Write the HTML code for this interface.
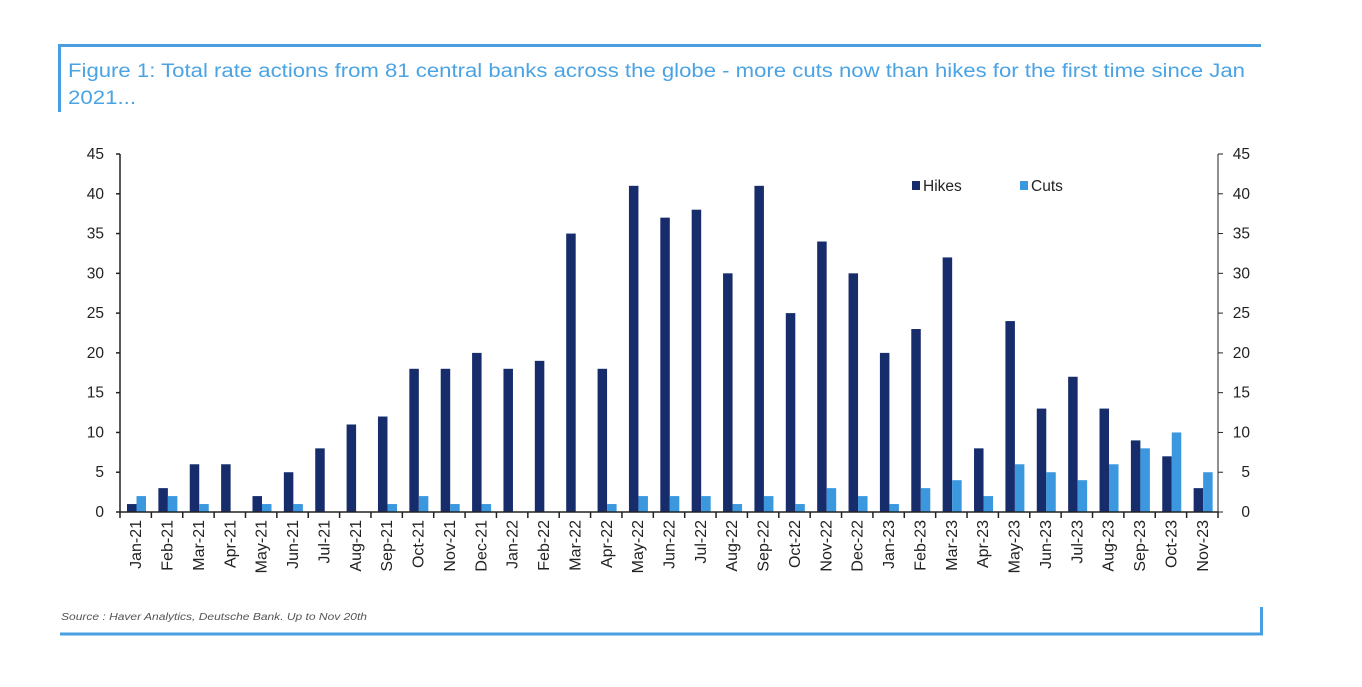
<!DOCTYPE html>
<html><head><meta charset="utf-8"><style>
body{margin:0;background:#fff;width:1362px;height:682px;overflow:hidden;font-family:"Liberation Sans",sans-serif}
</style></head><body>
<svg id="s" width="1362" height="682" xmlns="http://www.w3.org/2000/svg" font-family="Liberation Sans, sans-serif">
<line x1="58" y1="45.5" x2="1261" y2="45.5" stroke="#4a9fe0" stroke-width="3"/>
<line x1="59.5" y1="44" x2="59.5" y2="112" stroke="#4a9fe0" stroke-width="3"/>
<line x1="60" y1="634" x2="1263" y2="634" stroke="#4a9fe0" stroke-width="3"/>
<line x1="1261.5" y1="607" x2="1261.5" y2="635" stroke="#4a9fe0" stroke-width="3"/>
<text x="68" y="77" font-size="19" fill="#4ba3e3" textLength="1177" lengthAdjust="spacingAndGlyphs">Figure 1: Total rate actions from 81 central banks across the globe - more cuts now than hikes for the first time since Jan</text>
<text x="68" y="104" font-size="19" fill="#4ba3e3" textLength="68" lengthAdjust="spacingAndGlyphs">2021...</text>
<text x="61" y="620" font-size="10" font-style="italic" fill="#555" textLength="306" lengthAdjust="spacingAndGlyphs">Source : Haver Analytics, Deutsche Bank. Up to Nov 20th</text>
<rect x="912" y="181" width="8" height="9" fill="#172c6b"/>
<text x="923" y="191" font-size="15.5" fill="#222">Hikes</text>
<rect x="1020" y="181" width="8" height="9" fill="#3b98de"/>
<text x="1031" y="191" font-size="15.5" fill="#222">Cuts</text>
<g id="g"></g>
</svg>
<script>
var H=[1,3,6,6,2,5,8,11,12,18,18,20,18,19,35,18,41,37,38,30,41,25,34,30,20,23,32,8,24,13,17,13,9,7,3];
var C=[2,2,1,0,1,1,0,0,1,2,1,1,0,0,0,1,2,2,2,1,2,1,3,2,1,3,4,2,6,5,4,6,8,10,5];
var M=["Jan","Feb","Mar","Apr","May","Jun","Jul","Aug","Sep","Oct","Nov","Dec"];
var x0=120,x1=1218,y0=512,u=358/45,st=(x1-x0)/35,o="";
for(var i=0;i<35;i++){var x=x0+i*st;
o+='<rect x="'+(x+7)+'" y="'+(y0-H[i]*u)+'" width="9.5" height="'+(H[i]*u)+'" fill="#172c6b"/>';
if(C[i])o+='<rect x="'+(x+16.5)+'" y="'+(y0-C[i]*u)+'" width="9.5" height="'+(C[i]*u)+'" fill="#3b98de"/>';
var lab=M[i%12]+"-"+(21+Math.floor(i/12));var cx=x+st/2+5.5;
o+='<text transform="translate('+cx+',520) rotate(-90)" text-anchor="end" font-size="16" fill="#222">'+lab+'</text>';}
for(var i=0;i<=35;i++){var x=x0+i*st;o+='<line x1="'+x+'" y1="512" x2="'+x+'" y2="518" stroke="#222" stroke-width="1.5"/>';}
o+='<line x1="'+x0+'" y1="512" x2="'+x1+'" y2="512" stroke="#222" stroke-width="1.5"/>';
o+='<line x1="'+x0+'" y1="154" x2="'+x0+'" y2="512" stroke="#222" stroke-width="1.5"/>';
o+='<line x1="'+x1+'" y1="154" x2="'+x1+'" y2="512" stroke="#222" stroke-width="1"/>';
for(var v=0;v<=45;v+=5){var y=y0-v*u;
o+='<line x1="'+(x0-4)+'" y1="'+y+'" x2="'+x0+'" y2="'+y+'" stroke="#222" stroke-width="1.5"/>';
o+='<line x1="'+x1+'" y1="'+y+'" x2="'+(x1+5)+'" y2="'+y+'" stroke="#222" stroke-width="1"/>';
o+='<text x="104" y="'+(y+5)+'" text-anchor="end" font-size="15.5" fill="#222">'+v+'</text>';
o+='<text x="1250" y="'+(y+5)+'" text-anchor="end" font-size="15.5" fill="#222">'+v+'</text>';}
document.getElementById("g").innerHTML=o;
</script>
</body></html>
